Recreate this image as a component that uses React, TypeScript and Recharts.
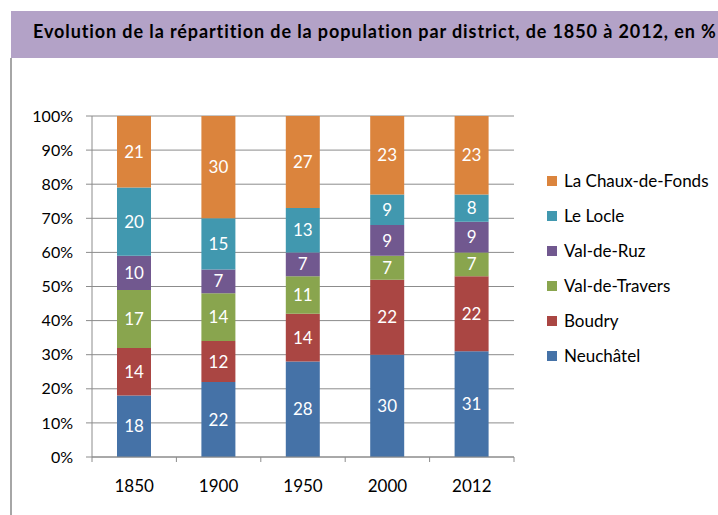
import React from "react";
import {
  BarChart,
  Bar,
  XAxis,
  YAxis,
  CartesianGrid,
  LabelList,
} from "recharts";

// Parts of the population per district, in % (rounded, as printed on the bars)
const years = ["1850", "1900", "1950", "2000", "2012"];
const neuchatel = [18, 22, 28, 30, 31];
const boudry = [14, 12, 14, 22, 22];
const valDeTravers = [17, 14, 11, 7, 7];
const valDeRuz = [10, 7, 7, 9, 9];
const leLocle = [20, 15, 13, 9, 8];
const chauxDeFonds = [21, 30, 27, 23, 23];
const yTicks = [0, 0.1, 0.2, 0.3, 0.4, 0.5, 0.6, 0.7, 0.8, 0.9, 1];

const series = [
  { key: "Neuchâtel", values: neuchatel, color: "#4572A7" },
  { key: "Boudry", values: boudry, color: "#AA4643" },
  { key: "Val-de-Travers", values: valDeTravers, color: "#89A54E" },
  { key: "Val-de-Ruz", values: valDeRuz, color: "#71588F" },
  { key: "Le Locle", values: leLocle, color: "#4198AF" },
  { key: "La Chaux-de-Fonds", values: chauxDeFonds, color: "#DB843D" },
];

const data = years.map((year, i) => {
  const row: Record<string, string | number> = { year };
  series.forEach((s) => (row[s.key] = s.values[i]));
  return row;
});

const FONT = "Lato, 'Open Sans', sans-serif";
const GRID = "#8C8C8C";
const W = 718;
const H = 515;
const PLOT = { left: 92, right: 514, top: 116, bottom: 457 };
const BAND = (PLOT.right - PLOT.left) / years.length;

// Excel-style category axis: tick marks between categories, not under them
const YearTick = (props: any) => {
  const { x, y, payload, index } = props;
  const last = index === years.length - 1;
  return (
    <g>
      <line x1={x - BAND / 2} x2={x - BAND / 2} y1={y - 8} y2={y - 3} stroke={GRID} />
      {last && <line x1={x + BAND / 2} x2={x + BAND / 2} y1={y - 8} y2={y - 3} stroke={GRID} />}
      <text x={x} y={y + 27} textAnchor="middle" fill="#000" fontSize={17} fontFamily={FONT}>
        {payload.value}
      </text>
    </g>
  );
};

export default function App() {
  return (
    <div style={{ position: "absolute", left: 0, top: 0, width: W, height: H, background: "#fff", overflow: "hidden" }}>
      <div
        style={{
          position: "absolute",
          left: 11,
          top: 11,
          width: W - 11,
          height: 47,
          background: "#B3A2C7",
          fontFamily: FONT,
          fontWeight: "bold",
          fontSize: 18,
          letterSpacing: 0.9,
          lineHeight: "40px",
          paddingLeft: 22,
          boxSizing: "border-box",
          color: "#000",
          whiteSpace: "nowrap",
        }}
      >
        Evolution de la répartition de la population par district, de 1850 à 2012, en %
      </div>
      <div style={{ position: "absolute", left: 10, top: 58, width: 2, height: H - 58, background: "#A6A6A6" }} />
      <BarChart
        width={W}
        height={H}
        data={data}
        stackOffset="expand"
        barSize={34}
        margin={{ top: PLOT.top, right: W - PLOT.right, bottom: H - PLOT.bottom - 30, left: 0 }}
      >
        <CartesianGrid vertical={false} stroke={GRID} />
        <XAxis
          dataKey="year"
          axisLine={{ stroke: GRID }}
          tickLine={false}
          height={30}
          interval={0}
          tick={<YearTick />}
        />
        <YAxis
          width={PLOT.left}
          domain={[0, 1]}
          ticks={yTicks}
          tickFormatter={(v: number) => `${Math.round(v * 100)}%`}
          axisLine={{ stroke: GRID }}
          tickLine={{ stroke: GRID }}
          tickSize={6}
          tickMargin={13}
          tick={{ fill: "#000", fontSize: 16, fontFamily: FONT }}
        />
        <YAxis
          yAxisId="frame"
          orientation="right"
          width={0}
          domain={[0, 1]}
          tick={false}
          tickLine={false}
          axisLine={{ stroke: GRID }}
        />
        {series.map((s) => (
          <Bar key={s.key} dataKey={s.key} stackId="a" fill={s.color} isAnimationActive={false}>
            <LabelList
              dataKey={s.key}
              position="center"
              fill="#fff"
              fontSize={17}
              fontFamily={FONT}
            />
          </Bar>
        ))}
      </BarChart>
      <div style={{ position: "absolute", left: 547, top: 163, fontFamily: FONT, fontSize: 17, color: "#000" }}>
        {[...series].reverse().map((s) => (
          <div key={s.key} style={{ height: 35, display: "flex", alignItems: "center", whiteSpace: "nowrap" }}>
            <span style={{ width: 10, height: 10, background: s.color, marginRight: 7, display: "inline-block" }} />
            <span>{s.key}</span>
          </div>
        ))}
      </div>
    </div>
  );
}
